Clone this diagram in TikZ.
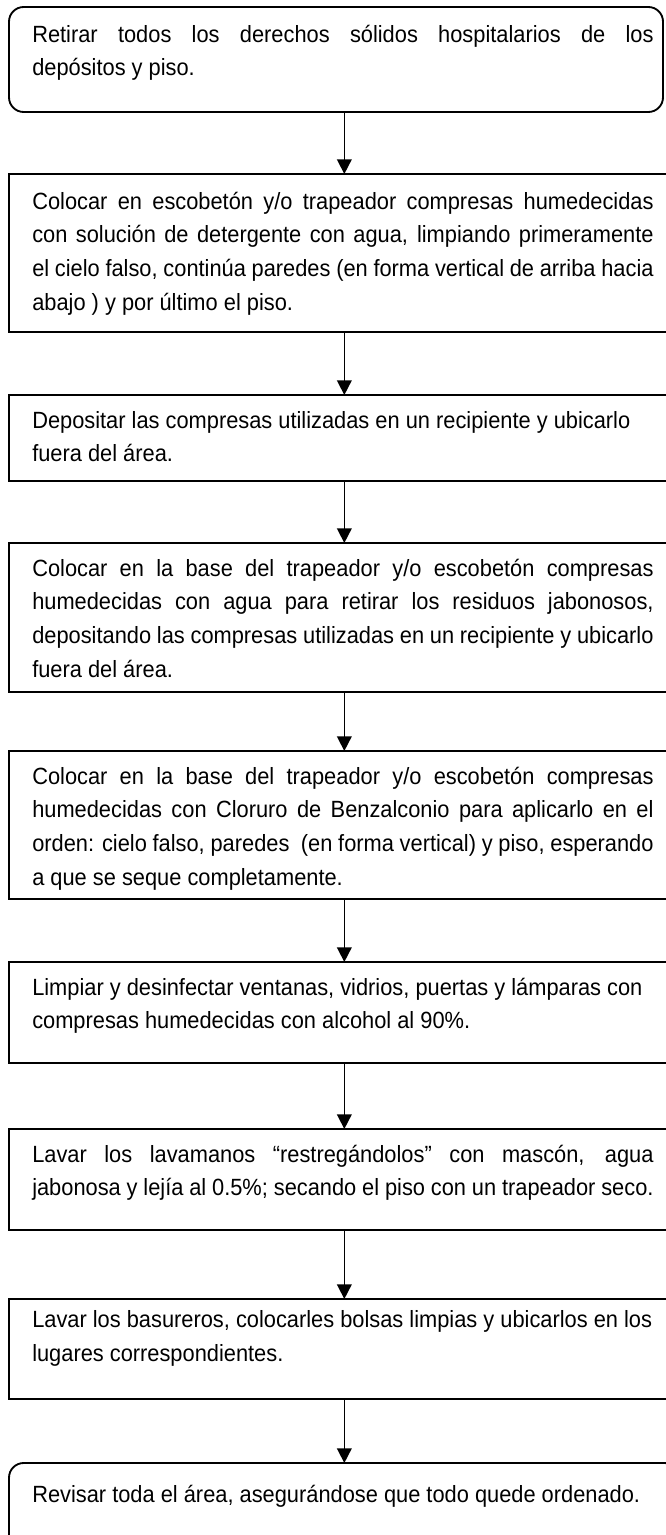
\documentclass[tikz,border=0pt]{standalone}
\usepackage{fontspec}
\setmainfont[FakeStretch=0.93]{Liberation Sans}
\usetikzlibrary{arrows.meta}

\newlength{\stepwd}
\setlength{\stepwd}{466pt}
% justified and ragged step texts
\newcommand{\steptext}[1]{\parbox[t]{\stepwd}{\fontsize{17.6pt}{25.3pt}\selectfont
  \tolerance=10000\hyphenpenalty=10000 #1}}
\newcommand{\stepleft}[1]{\parbox[t]{\stepwd}{\fontsize{17.6pt}{25.3pt}\selectfont
  \raggedright\hyphenpenalty=10000 #1}}

\tikzset{
  stepbox/.style={draw, line width=1.4pt, anchor=north west, outer sep=0pt,
    inner sep=0pt, minimum width=503pt},
  endbox/.style={stepbox, rounded corners=11pt},
  steptxt/.style={anchor=base west, inner sep=0pt, xshift=17.25pt, yshift=-24.75pt},
  flow/.style={-{Triangle[width=11pt,length=11pt]}, line width=1.25pt}
}

\begin{document}
\begin{tikzpicture}[x=0.75pt,y=-0.75pt]
\useasboundingbox (0,0) rectangle (665,1535);

% boxes
\node[endbox, minimum width=490.5pt, minimum height=78.75pt] (s1) at (9,7) {};
\node[stepbox, minimum height=118.5pt] (s2) at (9,174) {};
\node[stepbox, minimum height=64.5pt] (s3) at (9,395) {};
\node[stepbox, minimum height=111.75pt] (s4) at (9,543) {};
\node[stepbox, minimum height=111pt] (s5) at (9,751) {};
\node[stepbox, minimum height=75.75pt] (s6) at (9,962) {};
\node[stepbox, minimum height=75.75pt] (s7) at (9,1129) {};
\node[stepbox, minimum height=75pt] (s8) at (9,1299) {};
\node[endbox, minimum height=90pt] (s9) at (9,1463) {};

% texts
\node[steptxt, yshift=-1.5pt] (t1) at (s1.north west) {\steptext{Retirar todos los derechos sólidos hospitalarios de los\linebreak
  depósitos y piso.}};
\node[steptxt, yshift=-1.5pt] (t2) at (s2.north west) {\steptext{Colocar en escobetón y/o trapeador compresas humedecidas\linebreak
  con solución de detergente con agua, limpiando primeramente\linebreak
  el cielo falso, continúa paredes (en forma vertical de arriba hacia\linebreak
  abajo ) y por último el piso.}};
\node[steptxt] (t3) at (s3.north west) {\stepleft{Depositar las compresas utilizadas en un recipiente y ubicarlo\\
  fuera del área.}};
\node[steptxt] (t4) at (s4.north west) {\steptext{Colocar en la base del trapeador y/o escobetón compresas\linebreak
  humedecidas con agua para retirar los residuos jabonosos,\linebreak
  depositando las compresas utilizadas en un recipiente y ubicarlo\linebreak
  fuera del área.}};
\node[steptxt] (t5) at (s5.north west) {\steptext{Colocar en la base del trapeador y/o escobetón compresas\linebreak
  humedecidas con Cloruro de Benzalconio para aplicarlo en el\linebreak
  orden: cielo falso, paredes\ \ (en forma vertical) y piso, esperando\linebreak
  a que se seque completamente.}};
\node[steptxt] (t6) at (s6.north west) {\stepleft{Limpiar y desinfectar ventanas, vidrios, puertas y lámparas con\\
  compresas humedecidas con alcohol al 90\%.}};
\node[steptxt] (t7) at (s7.north west) {\steptext{Lavar los lavamanos “restregándolos” con mascón, agua\linebreak
  jabonosa y lejía al 0.5\%; secando el piso con un trapeador seco.}};
\node[steptxt, yshift=3.5pt] (t8) at (s8.north west) {\stepleft{Lavar los basureros, colocarles bolsas limpias y ubicarlos en los\\
  lugares correspondientes.}};
\node[steptxt, yshift=-5pt] (t9) at (s9.north west) {\stepleft{Revisar toda el área, asegurándose que todo quede ordenado.}};

% arrows
\draw[flow] (s1.south -| s2.north) -- (s2.north);
\foreach \a/\b in {s2/s3,s3/s4,s4/s5,s5/s6,s6/s7,s7/s8,s8/s9}
  \draw[flow] (\a.south) -- (\b.north);
\end{tikzpicture}
\end{document}
